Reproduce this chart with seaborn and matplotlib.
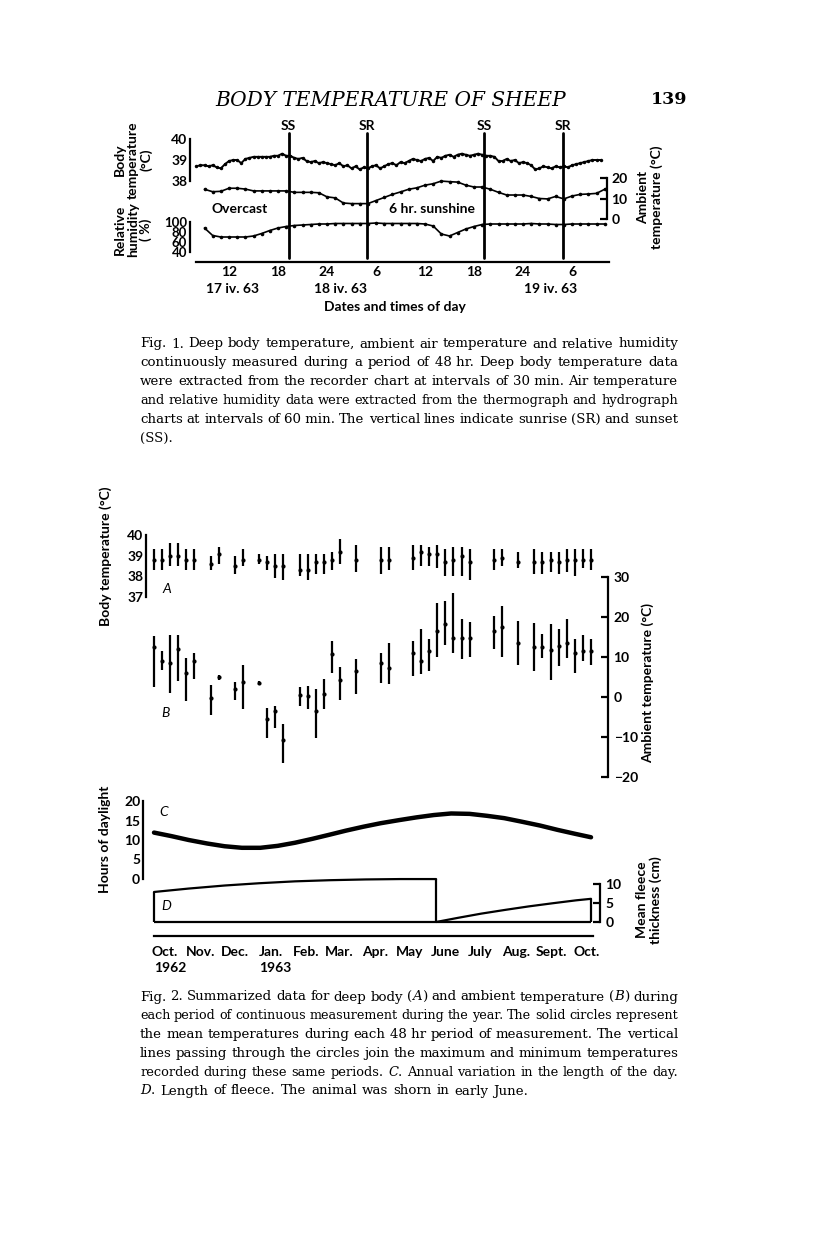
import matplotlib
matplotlib.use('Agg')
import matplotlib.pyplot as plt
import matplotlib.transforms as mtransforms
import numpy as np
import seaborn as sns

W, H = 816, 1238
SANS = ['Lato', 'DejaVu Sans']
SERIF = ['DejaVu Serif']

# ---------- Fig. 1: 48 hr record, 17-19 iv 63 (hours from 00:00 on 17 iv) ----------
body_hours = np.arange(8.0, 58.0, 0.5)          # read every 30 min
body_temp = [
    38.70, 38.75, 38.75, 38.70, 38.75, 38.65, 38.60, 38.80, 38.95, 39.00,
    39.00, 38.85, 39.05, 39.10, 39.15, 39.15, 39.15, 39.15, 39.15, 39.20,
    39.20, 39.30, 39.20, 39.20, 39.10, 39.05, 39.10, 38.95, 38.90, 38.95,
    38.85, 38.90, 38.85, 38.80, 38.75, 38.85, 38.70, 38.75, 38.60, 38.70,
    38.55, 38.65, 38.60, 38.70, 38.75, 38.60, 38.70, 38.80, 38.85, 38.75,
    38.90, 38.85, 38.95, 39.05, 39.00, 38.95, 39.05, 39.10, 38.95, 39.15,
    39.10, 39.20, 39.25, 39.15, 39.25, 39.30, 39.25, 39.20, 39.25, 39.30,
    39.25, 39.20, 39.20, 39.15, 38.95, 38.95, 39.05, 38.95, 39.00, 38.85,
    38.90, 38.85, 38.75, 38.55, 38.60, 38.70, 38.65, 38.60, 38.70, 38.65,
    38.70, 38.65, 38.75, 38.80, 38.85, 38.90, 38.95, 39.00, 39.00, 39.00,
]
air_hours = np.arange(9, 59, 1)                  # read every 60 min
air_temp = [
    14.5, 13.3, 13.5, 15.0, 15.0, 14.6, 13.7, 13.7, 13.7, 13.7,
    13.7, 13.0, 13.0, 13.0, 12.8, 10.8, 10.3, 7.8, 7.5, 7.5,
    7.5, 9.0, 10.5, 12.0, 13.2, 14.5, 15.2, 16.5, 17.2, 18.5,
    18.2, 18.0, 16.5, 15.6, 15.6, 14.5, 13.0, 11.7, 11.7, 11.7,
    11.0, 10.0, 9.8, 11.0, 9.8, 11.2, 12.0, 12.2, 12.5, 14.5,
]
rel_hum = [
    88, 73, 70, 70, 70, 70, 72, 77, 83, 88,
    91, 93, 94, 95, 96, 96, 97, 97, 97, 97,
    97, 98, 97, 97, 97, 97, 97, 96, 92, 76,
    72, 79, 86, 91, 95, 96, 96, 96, 96, 96,
    97, 96, 96, 95, 95, 96, 96, 96, 96, 96,
]
sun_labels = ['SS', 'SR', 'SS', 'SR']
sun_hours = [19.3, 28.9, 43.2, 52.9]
f1_ticks = [12, 18, 24, 30, 36, 42, 48, 54]
f1_ticklabels = ['12', '18', '24', '6', '12', '18', '24', '6']
f1_dates = ['17 iv. 63', '18 iv. 63', '19 iv. 63']
f1_date_hours = [12.4, 25.6, 51.4]
body1_ticks = [38, 39, 40]
air1_ticks = [0, 10, 20]
rh_ticks = [40, 60, 80, 100]

# ---------- Fig. 2: annual summary (days from 1 Oct 1962) ----------
days = [0, 7, 14, 21, 28, 35, 49, 56, 70, 77, 91, 98, 105, 112, 126, 133, 140,
        147, 154, 161, 175, 196, 203, 224, 231, 238, 245, 252, 259, 266, 273,
        294, 301, 315, 329, 336, 343, 350, 357, 364, 371, 378]
A_max = [39.3, 39.3, 39.6, 39.6, 39.3, 39.3, 39.0, 39.4, 39.0, 39.3, 39.1, 39.0,
         39.1, 39.1, 39.1, 39.1, 39.1, 39.1, 39.2, 39.8, 39.5, 39.4, 39.4, 39.5,
         39.5, 39.4, 39.5, 39.3, 39.4, 39.4, 39.3, 39.3, 39.3, 39.2, 39.3, 39.2,
         39.2, 39.2, 39.3, 39.3, 39.3, 39.3]
A_mean = [38.8, 38.8, 39.0, 39.0, 38.8, 38.8, 38.6, 39.1, 38.5, 38.8, 38.8, 38.7,
          38.5, 38.5, 38.3, 38.3, 38.7, 38.7, 38.8, 39.2, 38.8, 38.8, 38.8, 38.9,
          39.2, 39.1, 39.1, 38.7, 38.8, 39.0, 38.7, 38.8, 38.9, 38.7, 38.7, 38.7,
          38.8, 38.7, 38.8, 38.8, 38.8, 38.8]
A_min = [38.3, 38.3, 38.5, 38.5, 38.3, 38.3, 38.3, 38.6, 38.1, 38.5, 38.6, 38.3,
         37.9, 37.8, 38.0, 37.8, 38.1, 38.1, 38.3, 38.6, 38.2, 38.1, 38.3, 38.3,
         38.5, 38.5, 38.4, 38.0, 38.0, 38.0, 37.8, 38.3, 38.5, 38.4, 38.1, 38.1,
         38.2, 38.1, 38.2, 38.0, 38.4, 38.3]
B_max = [15.3, 11.6, 15.5, 15.5, 9.7, 11.1, 3.1, 5.6, 3.7, 8.0, 3.9, -2.7, -2.3,
         -6.7, 2.5, 2.8, 2.0, 4.5, 14.1, 7.5, 9.5, 11.1, 13.6, 14.1, 16.9, 14.4,
         23.5, 24.0, 26.0, 19.6, 18.8, 20.2, 22.7, 19.1, 18.6, 15.7, 18.2, 16.9,
         19.6, 14.4, 15.5, 14.4]
B_mean = [12.6, 9.1, 8.6, 11.9, 6.1, 8.9, -0.2, 5.0, 2.0, 3.7, 3.5, -5.5, -3.6,
          -10.8, 0.6, 0.3, -3.6, 0.8, 10.8, 4.3, 6.4, 8.5, 7.2, 11.1, 8.9, 11.6,
          16.6, 18.2, 14.7, 14.7, 14.8, 16.6, 17.6, 13.6, 12.6, 12.6, 11.8, 12.8,
          13.6, 11.1, 11.6, 11.4]
B_min = [2.5, 6.8, 1.0, 3.9, -1.1, 4.5, -4.6, 4.2, -0.7, -3.1, 3.1, -10.2, -7.7,
         -16.4, -2.3, -3.1, -10.2, -3.0, 6.1, -0.7, 0.8, 3.5, 3.3, 5.3, 5.8, 6.4,
         10.1, 13.0, 10.9, 9.5, 10.0, 11.9, 10.1, 8.0, 6.4, 9.7, 4.2, 7.8, 9.7,
         6.0, 8.9, 8.0]
daylight_days = [0, 15, 30, 46, 61, 76, 92, 107, 122, 137, 151, 166, 181, 196,
                 212, 227, 242, 257, 273, 288, 303, 318, 334, 349, 364, 378]
daylight_hours = [11.9, 11.0, 10.0, 9.1, 8.4, 8.0, 8.0, 8.5, 9.3, 10.3, 11.3,
                  12.4, 13.4, 14.3, 15.1, 15.8, 16.4, 16.8, 16.7, 16.2, 15.6,
                  14.7, 13.7, 12.6, 11.6, 10.7]
fleece1_days = [0, 30, 61, 91, 122, 152, 183, 213, 244]
fleece1_cm = [7.9, 8.8, 9.6, 10.2, 10.7, 11.0, 11.2, 11.3, 11.3]
fleece2_days = [244, 263, 283, 304, 324, 344, 365, 378]
fleece2_cm = [0.0, 1.1, 2.2, 3.2, 4.1, 4.9, 5.7, 6.1]
month_start = [0, 31, 61, 92, 123, 151, 182, 212, 243, 273, 304, 335, 365]
month_names = ['Oct.', 'Nov.', 'Dec.', 'Jan.', 'Feb.', 'Mar.', 'Apr.', 'May',
               'June', 'July', 'Aug.', 'Sept.', 'Oct.']
year_names = ['1962', '1963']
year_days = [14, 105]
A_ticks = [37, 38, 39, 40]
B_ticks = [-20, -10, 0, 10, 20, 30]
C_ticks = [0, 5, 10, 15, 20]
D_ticks = [0, 5, 10]

caption1 = [
    "Fig. 1. Deep body temperature, ambient air temperature and relative humidity",
    "continuously measured during a period of 48~hr. Deep body temperature data",
    "were extracted from the recorder chart at intervals of 30~min. Air temperature",
    "and relative humidity data were extracted from the thermograph and hydrograph",
    "charts at intervals of 60~min. The vertical lines indicate sunrise (SR) and sunset",
    "(SS).",
]
caption2 = [
    "Fig. 2. Summarized data for deep body (_A_) and ambient temperature (_B_) during",
    "each period of continuous measurement during the year. The solid circles represent",
    "the mean temperatures during each 48~hr period of measurement. The vertical",
    "lines passing through the circles join the maximum and minimum temperatures",
    "recorded during these same periods. _C_. Annual variation in the length of the day.",
    "_D_. Length of fleece. The animal was shorn in early June.",
]

sns.set_style('white')
plt.rcParams['font.family'] = SANS
plt.rcParams['font.weight'] = 'bold'
plt.rcParams['axes.unicode_minus'] = True
plt.rcParams['text.color'] = 'black'
plt.rcParams['xtick.color'] = 'black'
plt.rcParams['ytick.color'] = 'black'
plt.rcParams['xtick.labelcolor'] = 'black'
plt.rcParams['ytick.labelcolor'] = 'black'

fig = plt.figure(figsize=(W / 100, H / 100), dpi=100)
fig.patch.set_facecolor('white')


def inv(m, p):
    v1, p1, v2, p2 = m
    return v1 + (p - p1) * (v2 - v1) / (p2 - p1)


def pix_axes(left, right, top, bottom, xm, ym):
    ax = fig.add_axes([left / W, 1 - bottom / H, (right - left) / W, (bottom - top) / H])
    ax.set_xlim(inv(xm, left), inv(xm, right))
    ax.set_ylim(inv(ym, bottom), inv(ym, top))
    ax.set_autoscale_on(False)
    ax.patch.set_alpha(0)
    for s in ax.spines.values():
        s.set_visible(False)
        s.set_linewidth(1.6)
        s.set_color('black')
    ax.set_xticks([])
    ax.set_yticks([])
    return ax


def ftext(x, y, s, **kw):
    kw.setdefault('ha', 'center')
    kw.setdefault('va', 'center')
    kw.setdefault('fontsize', 10)
    kw.setdefault('fontweight', 'bold')
    return fig.text(x / W, 1 - y / H, s, **kw)


def xtext(ax, xv, y, s, **kw):
    tr = mtransforms.blended_transform_factory(ax.transData, fig.transFigure)
    kw.setdefault('ha', 'center')
    kw.setdefault('va', 'center')
    kw.setdefault('fontsize', 10)
    kw.setdefault('fontweight', 'bold')
    return ax.text(xv, 1 - y / H, s, transform=tr, clip_on=False, **kw)


def yspine(ax, side, lo, hi, ticks, size=10, pad=2):
    ax.spines[side].set_visible(True)
    ax.spines[side].set_bounds(lo, hi)
    if side == 'right':
        ax.yaxis.tick_right()
    ax.set_yticks(ticks)
    ax.tick_params(axis='y', direction='in', length=5, width=1.6, pad=pad, labelsize=size)


# ---------------- header ----------------
ftext(391, 100, 'BODY TEMPERATURE OF SHEEP', family=SERIF, style='italic',
      fontweight='normal', fontsize=14.5)
ftext(669, 100, '139', family=SERIF, fontweight='bold', fontsize=12.5)

# ---------------- Fig. 1 ----------------
xm1 = (12, 229, 54, 572)
ax1b = pix_axes(190, 612, 110, 262, xm1, (40, 139, 38, 181))
ax1a = pix_axes(190, 607, 110, 262, xm1, (20, 178, 0, 219))
ax1r = pix_axes(190, 612, 110, 262, xm1, (100, 222, 40, 252))

sns.lineplot(x=body_hours, y=body_temp, ax=ax1b, color='black', linewidth=1.4,
             marker='o', markersize=2.5, markeredgewidth=0)
sns.lineplot(x=air_hours, y=air_temp, ax=ax1a, color='black', linewidth=1.2,
             marker='o', markersize=2.6, markeredgewidth=0)
sns.lineplot(x=air_hours, y=rel_hum, ax=ax1r, color='black', linewidth=1.2,
             marker='o', markersize=2.6, markeredgewidth=0)

yspine(ax1b, 'left', 38, 40, body1_ticks)
yspine(ax1a, 'right', 0, 20, air1_ticks, pad=3)
yspine(ax1r, 'left', 40, 100, rh_ticks, size=9.5)

ax1b.spines['bottom'].set_visible(True)
ax1b.spines['bottom'].set_bounds(8, 58.5)
ax1b.set_xticks(f1_ticks, f1_ticklabels)
ax1b.tick_params(axis='x', direction='in', length=6, width=1.6, pad=3, labelsize=10)

for lab, hr in zip(sun_labels, sun_hours):
    ax1b.axvline(hr, ymin=(262 - 258) / 152, ymax=(262 - 133) / 152, color='black', lw=2)
    xtext(ax1b, hr, 126, lab)
for lab, hr in zip(f1_dates, f1_date_hours):
    xtext(ax1b, hr, 289, lab)

ftext(395, 307, 'Dates and times of day')
ftext(240, 209, 'Overcast')
ftext(432, 209, '6 hr. sunshine')
ftext(133, 160, 'Body\ntemperature\n(°C)', rotation=90, linespacing=1.1)
ftext(133, 230, 'Relative\nhumidity\n( %)', rotation=90, linespacing=1.1)
ftext(650, 197, 'Ambient\ntemperature (°C)', rotation=90, linespacing=1.1)

# ---------------- Fig. 2 ----------------
xm2 = (0, 154, 365, 576)
ax2a = pix_axes(146, 610, 500, 800, xm2, (40, 535, 37, 597))
ax2b = pix_axes(146, 608, 500, 800, xm2, (30, 577, 0, 697))
ax2c = pix_axes(143, 600, 780, 936, xm2, (20, 801, 0, 879))
ax2d = pix_axes(143, 600, 780, 936, xm2, (10, 884, 0, 922))

ax2a.vlines(days, A_min, A_max, color='black', lw=1.6)
sns.scatterplot(x=days, y=A_mean, ax=ax2a, color='black', s=9, linewidth=0)
ax2b.vlines(days, B_min, B_max, color='black', lw=1.6)
sns.scatterplot(x=days, y=B_mean, ax=ax2b, color='black', s=9, linewidth=0)

yspine(ax2a, 'left', 37, 40, A_ticks)
yspine(ax2b, 'right', -20, 30, B_ticks, pad=4)

sns.lineplot(x=daylight_days, y=daylight_hours, ax=ax2c, color='black', linewidth=3.2)
yspine(ax2c, 'left', 0, 20, C_ticks)

sns.lineplot(x=fleece1_days, y=fleece1_cm, ax=ax2d, color='black', linewidth=1.6)
sns.lineplot(x=fleece2_days, y=fleece2_cm, ax=ax2d, color='black', linewidth=1.6)
ax2d.vlines([fleece1_days[0], fleece1_days[-1], fleece2_days[-1]], 0,
            [fleece1_cm[0], fleece1_cm[-1], fleece2_cm[-1]], color='black', lw=1.6)
ax2d.hlines(0, fleece1_days[0], fleece2_days[-1], color='black', lw=1.6)
yspine(ax2d, 'right', 0, 10, D_ticks, pad=4)

ax2d.spines['bottom'].set_visible(True)
ax2d.spines['bottom'].set_bounds(0, 380)
ax2d.set_xticks(month_start)
ax2d.set_xticklabels([])
ax2d.tick_params(axis='x', which='major', direction='in', length=6, width=1.6)
ax2d.set_xticks([d + 9 for d in month_start], month_names, minor=True)
ax2d.tick_params(axis='x', which='minor', length=0, pad=7, labelsize=10)
for lab, d in zip(year_names, year_days):
    xtext(ax2d, d, 968, lab)

ftext(167, 589, 'A', style='italic', fontweight='normal')
ftext(166, 713, 'B', style='italic', fontweight='normal')
ftext(164, 812, 'C', style='italic', fontweight='normal')
ftext(166, 906, 'D', style='italic', fontweight='normal')
ftext(106, 556, 'Body temperature (°C)', rotation=90)
ftext(648, 683, 'Ambient temperature (°C)', rotation=90)
ftext(105, 839, 'Hours of daylight', rotation=90)
ftext(649, 900, 'Mean fleece\nthickness (cm)', rotation=90, linespacing=1.1)

# ---------------- captions (justified) ----------------
CAP_L, CAP_R = 140, 678


def caption(lines, y_top, dy, size):
    r = fig.canvas.get_renderer()
    for i, line in enumerate(lines):
        y = 1 - (y_top + i * dy) / H
        fs = size
        while True:
            words = []
            for w in line.split(' '):
                segs = []
                for k, part in enumerate(w.split('_')):
                    if part == '':
                        continue
                    t = fig.text(0, y, part.replace('~', ' '), fontsize=fs, family=SERIF,
                                 fontweight='normal', style='italic' if k % 2 else 'normal',
                                 ha='left', va='center', color='black')
                    segs.append((t, t.get_window_extent(r).width))
                words.append(segs)
            widths = [sum(wd for _, wd in segs) for segs in words]
            if sum(widths) + 3.5 * (len(words) - 1) <= CAP_R - CAP_L or fs < 7:
                break
            for segs in words:
                for t, _ in segs:
                    t.remove()
            fs -= 0.2
        if i < len(lines) - 1 and len(words) > 1:
            gap = (CAP_R - CAP_L - sum(widths)) / (len(words) - 1)
        else:
            gap = 5
        x = CAP_L
        for segs, ww in zip(words, widths):
            xx = x
            for t, wd in segs:
                t.set_x(xx / W)
                xx += wd
            x += ww + gap


caption(caption1, 344, 18.8, 9.6)
caption(caption2, 997, 18.8, 9.6)

fig.savefig('out.png', dpi=100, facecolor='white')
